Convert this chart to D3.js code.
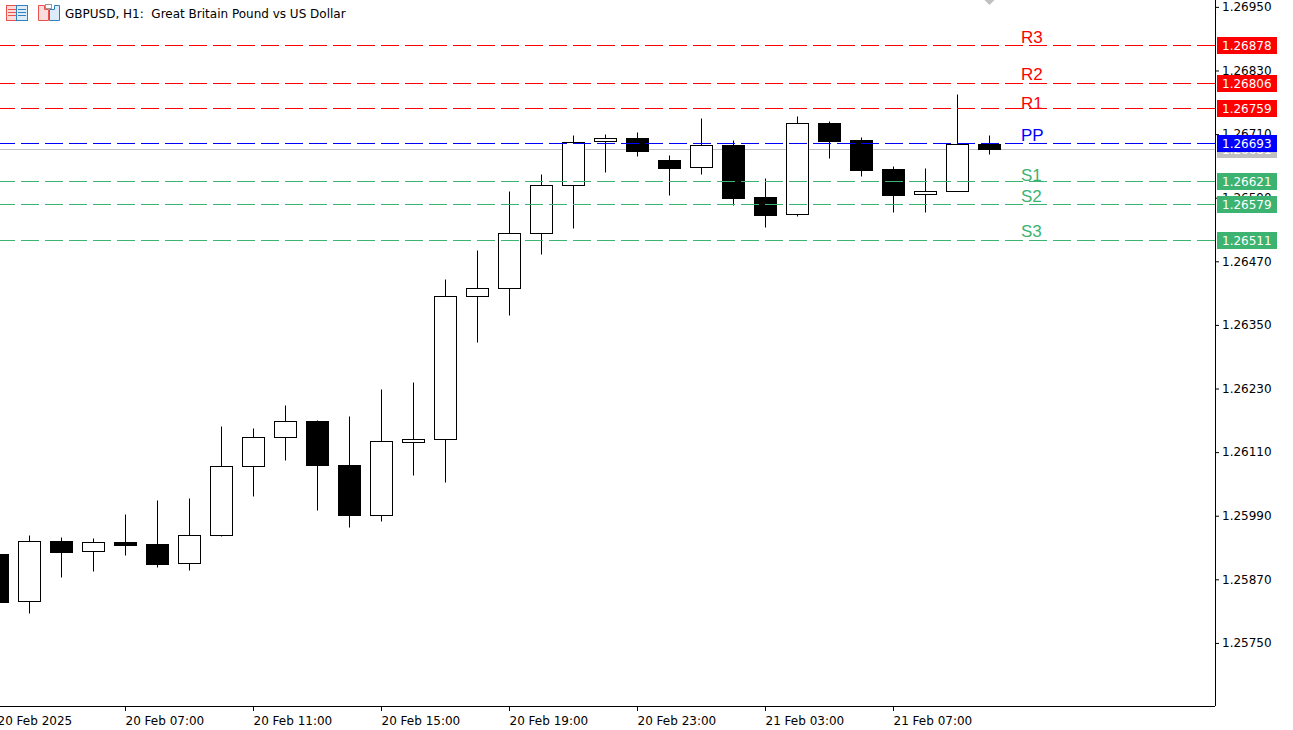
<!DOCTYPE html>
<html>
<head>
<meta charset="utf-8">
<title>GBPUSD, H1</title>
<script src="https://cdn.jsdelivr.net/npm/d3@7/dist/d3.min.js"></script>
<style>
  html, body { margin: 0; padding: 0; background: #fff; overflow: hidden; }
  svg { display: block; }
  text { font-family: "DejaVu Sans", sans-serif; font-size: 12px; fill: #000; }
  .pivot-label { font-family: "Liberation Sans", sans-serif; font-size: 17px; }
</style>
</head>
<body>
<svg id="chart" width="1293" height="730"></svg>
<script>
// Candles, one hour each (20 Feb 03:00 to 21 Feb 10:00)
const candleTimes = [
  "2025-02-20T03:00Z", "2025-02-20T04:00Z", "2025-02-20T05:00Z", "2025-02-20T06:00Z",
  "2025-02-20T07:00Z", "2025-02-20T08:00Z", "2025-02-20T09:00Z", "2025-02-20T10:00Z",
  "2025-02-20T11:00Z", "2025-02-20T12:00Z", "2025-02-20T13:00Z", "2025-02-20T14:00Z",
  "2025-02-20T15:00Z", "2025-02-20T16:00Z", "2025-02-20T17:00Z", "2025-02-20T18:00Z",
  "2025-02-20T19:00Z", "2025-02-20T20:00Z", "2025-02-20T21:00Z", "2025-02-20T22:00Z",
  "2025-02-20T23:00Z", "2025-02-21T00:00Z", "2025-02-21T01:00Z", "2025-02-21T02:00Z",
  "2025-02-21T03:00Z", "2025-02-21T04:00Z", "2025-02-21T05:00Z", "2025-02-21T06:00Z",
  "2025-02-21T07:00Z", "2025-02-21T08:00Z", "2025-02-21T09:00Z", "2025-02-21T10:00Z"
].map(d => new Date(d));

const opens = [
  1.25918, 1.25829, 1.25942, 1.25924, 1.25941, 1.25937, 1.25901, 1.25954,
  1.26084, 1.26139, 1.26169, 1.26086, 1.25992, 1.26129, 1.26135, 1.26405,
  1.26420, 1.26524, 1.26614, 1.26697, 1.26703, 1.26661, 1.26647, 1.26690,
  1.26592, 1.26559, 1.26731, 1.26699, 1.26644, 1.26597, 1.26603, 1.26692
];
const highs = [
  1.25925, 1.25954, 1.25950, 1.25948, 1.25993, 1.26020, 1.26024, 1.26159,
  1.26156, 1.26199, 1.26171, 1.26178, 1.26229, 1.26242, 1.26437, 1.26492,
  1.26603, 1.26635, 1.26709, 1.26710, 1.26714, 1.26671, 1.26741, 1.26699,
  1.26627, 1.26744, 1.26735, 1.26705, 1.26650, 1.26646, 1.26786, 1.26709
];
const lows = [
  1.25820, 1.25807, 1.25875, 1.25886, 1.25916, 1.25893, 1.25888, 1.25952,
  1.26027, 1.26095, 1.26001, 1.25969, 1.25980, 1.26067, 1.26054, 1.26318,
  1.26369, 1.26484, 1.26532, 1.26639, 1.26669, 1.26595, 1.26635, 1.26576,
  1.26535, 1.26556, 1.26665, 1.26631, 1.26563, 1.26563, 1.26603, 1.26673
];
const closes = [
  1.25827, 1.25942, 1.25922, 1.25941, 1.25935, 1.25899, 1.25954, 1.26084,
  1.26139, 1.26169, 1.26086, 1.25992, 1.26131, 1.26135, 1.26405, 1.26420,
  1.26524, 1.26614, 1.26696, 1.26703, 1.26678, 1.26646, 1.26690, 1.26590,
  1.26558, 1.26731, 1.26697, 1.26642, 1.26595, 1.26603, 1.26692, 1.26681
];

// Axis ticks
const priceTicks = [1.26950, 1.26830, 1.26710, 1.26590, 1.26470, 1.26350, 1.26230, 1.26110, 1.25990, 1.25870, 1.25750];
const timeTicks = [
  "2025-02-20T03:00Z", "2025-02-20T07:00Z", "2025-02-20T11:00Z", "2025-02-20T15:00Z",
  "2025-02-20T19:00Z", "2025-02-20T23:00Z", "2025-02-21T03:00Z", "2025-02-21T07:00Z"
].map(d => new Date(d));
const timeTickLabels = [
  "20 Feb 2025", "20 Feb 07:00", "20 Feb 11:00", "20 Feb 15:00",
  "20 Feb 19:00", "20 Feb 23:00", "21 Feb 03:00", "21 Feb 07:00"
];

// Pivot levels
const pivotNames = ["R3", "R2", "R1", "PP", "S1", "S2", "S3"];
const pivotPrices = [1.26878, 1.26806, 1.26759, 1.26693, 1.26621, 1.26579, 1.26511];
const pivotLabelPrices = [1.26882, 1.26812, 1.26758, 1.26697, 1.26622, 1.26582, 1.26516];
const pivotColors = ["#ff0000", "#ff0000", "#ff0000", "#0000ff", "#3cb371", "#3cb371", "#3cb371"];

const lastPrice = 1.26681;
const chartTitle = "GBPUSD, H1:  Great Britain Pound vs US Dollar";

const plotRight = 1215;
const plotBottom = 706;

const svg = d3.select("#chart");

// 1 px = 1/53000 of a price unit
const y = d3.scaleLinear().domain([1.25631, 1.26963]).range([plotBottom, 0]);
const x = d3.scaleUtc().domain([candleTimes[0], candleTimes[candleTimes.length - 1]]).range([-3, 989]);

const px = v => Math.round(v) + 0.5;

// 最終価格のライン (ローソク足の後ろ)
svg.append("line")
  .attr("x1", 0).attr("x2", plotRight)
  .attr("y1", px(y(lastPrice))).attr("y2", px(y(lastPrice)))
  .attr("stroke", "#c0c0c0");

// ローソク足
const candles = svg.append("g").attr("class", "candles")
  .selectAll("g")
  .data(candleTimes)
  .enter()
  .append("g");

candles.append("line")
  .attr("x1", d => px(x(d))).attr("x2", d => px(x(d)))
  .attr("y1", (d, i) => px(y(highs[i])))
  .attr("y2", (d, i) => px(y(lows[i])))
  .attr("stroke", "#000");

candles.append("rect")
  .attr("x", d => px(x(d)) - 11)
  .attr("width", 22)
  .attr("y", (d, i) => px(y(Math.max(opens[i], closes[i]))))
  .attr("height", (d, i) => Math.round(y(Math.min(opens[i], closes[i]))) - Math.round(y(Math.max(opens[i], closes[i]))))
  .attr("fill", (d, i) => closes[i] >= opens[i] ? "#fff" : "#000")
  .attr("stroke", "#000");

// ピボットのライン
svg.append("g").selectAll("line")
  .data(pivotPrices)
  .enter()
  .append("line")
  .attr("x1", 0).attr("x2", plotRight)
  .attr("y1", d => px(y(d))).attr("y2", d => px(y(d)))
  .attr("stroke", (d, i) => pivotColors[i])
  .attr("stroke-dasharray", "18 6")
  .attr("stroke-dashoffset", 3);

svg.append("g").selectAll("text")
  .data(pivotNames)
  .enter()
  .append("text")
  .attr("class", "pivot-label")
  .attr("x", 1021)
  .attr("y", (d, i) => y(pivotLabelPrices[i]))
  .style("fill", (d, i) => pivotColors[i])
  .text(d => d);

// 右の価格軸
const yAxis = svg.append("g")
  .attr("transform", `translate(${plotRight},0)`)
  .call(d3.axisRight(y).tickValues(priceTicks).tickSize(4).tickPadding(3).tickFormat(d3.format(".5f")));

// 下の時間軸
const xAxis = svg.append("g")
  .attr("transform", `translate(0,${plotBottom})`)
  .call(d3.axisBottom(x).tickValues(timeTicks).tickSize(5).tickPadding(3).tickFormat((d, i) => timeTickLabels[i]));

xAxis.selectAll("text").attr("text-anchor", "start").attr("dy", "0.9em");
xAxis.selectAll(".domain").attr("d", `M0,0.5H${plotRight}`);
yAxis.selectAll(".domain").attr("d", `M0.5,0V${plotBottom}`);
svg.selectAll(".tick text").style("font-size", "12px").style("font-family", '"DejaVu Sans", sans-serif');

// 価格タグ
const tagData = [lastPrice].concat(pivotPrices);
const tagColors = ["#c0c0c0"].concat(pivotColors);
const tags = svg.append("g").selectAll("g")
  .data(tagData.map((price, i) => ({price: price, color: tagColors[i]})))
  .enter()
  .append("g");
// 青いタグが最前面
tags.sort((a, b) => (a.color === "#0000ff") - (b.color === "#0000ff"));

tags.append("rect")
  .attr("x", plotRight + 2)
  .attr("y", d => Math.round(y(d.price)) - 8)
  .attr("width", 60)
  .attr("height", 17)
  .attr("fill", d => d.color);

tags.append("text")
  .attr("x", plotRight + 7)
  .attr("y", d => Math.round(y(d.price)) + 5)
  .style("fill", "#fff")
  .text(d => d.price.toFixed(5));

// シフトのマーカー
const shiftX = x(candleTimes[candleTimes.length - 1]);
svg.append("path")
  .attr("d", `M${shiftX - 4.5},0H${shiftX + 5.5}L${shiftX + 0.5},5Z`)
  .attr("fill", "#c0c0c0");

// 左上のアイコンとタイトル
const icons = svg.append("g");
icons.append("rect").attr("x", 6.5).attr("y", 5.5).attr("width", 10).attr("height", 15).attr("fill", "#fbdcdc").attr("stroke", "#e8524a");
icons.append("rect").attr("x", 16.5).attr("y", 5.5).attr("width", 11).attr("height", 15).attr("fill", "#dcecf8").attr("stroke", "#2f7fc1");
[9.5, 12.5, 15.5].forEach(v => {
  icons.append("line").attr("x1", 8).attr("x2", 16).attr("y1", v).attr("y2", v).attr("stroke", "#e8524a");
  icons.append("line").attr("x1", 18).attr("x2", 26).attr("y1", v).attr("y2", v).attr("stroke", "#2f7fc1");
});
icons.append("path").attr("d", "M38.5,5.5H44.5V9.5H48.5V20.5H38.5Z").attr("fill", "#fbdcdc").attr("stroke", "#e8524a");
icons.append("path").attr("d", "M49.5,20.5V9.5H54.5V5.5H59.5V20.5Z").attr("fill", "#dcecf8").attr("stroke", "#2f7fc1");
icons.append("rect").attr("x", 45.5).attr("y", 4.5).attr("width", 6).attr("height", 4).attr("fill", "#fff").attr("stroke", "#999");

svg.append("text")
  .attr("x", 65)
  .attr("y", 18)
  .attr("xml:space", "preserve")
  .style("white-space", "pre")
  .text(chartTitle);
</script>
</body>
</html>
